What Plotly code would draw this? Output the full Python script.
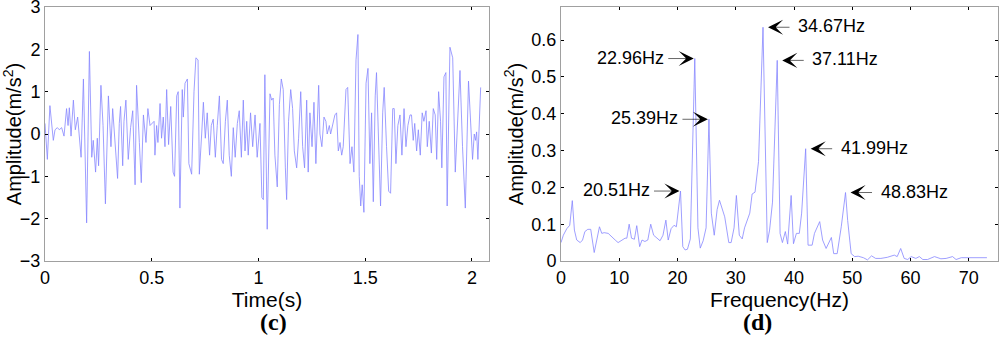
import plotly.graph_objects as go

# ---------------- (c) time signal: local extrema ----------------
time_s = [0.000, 0.011, 0.023, 0.039, 0.047, 0.058, 0.067, 0.078, 0.089, 0.101, 0.108, 0.114,
          0.122, 0.133, 0.142, 0.153, 0.169, 0.180, 0.195, 0.208, 0.219, 0.226, 0.237, 0.245,
          0.251, 0.262, 0.272, 0.283, 0.297, 0.309, 0.317, 0.328, 0.340, 0.348, 0.354, 0.364,
          0.370, 0.379, 0.390, 0.401, 0.411, 0.422, 0.429, 0.442, 0.451, 0.461, 0.473, 0.482,
          0.492, 0.511, 0.515, 0.523, 0.529, 0.539, 0.546, 0.554, 0.562, 0.570, 0.579, 0.589,
          0.600, 0.607, 0.617, 0.624, 0.632, 0.643, 0.648, 0.656, 0.667, 0.674, 0.687, 0.698,
          0.707, 0.717, 0.723, 0.734, 0.742, 0.751, 0.760, 0.771, 0.779, 0.788, 0.798, 0.807,
          0.817, 0.827, 0.835, 0.845, 0.854, 0.863, 0.873, 0.882, 0.891, 0.901, 0.910, 0.920,
          0.929, 0.937, 0.945, 0.952, 0.963, 0.973, 0.984, 0.994, 1.007, 1.016, 1.023, 1.030,
          1.041, 1.054, 1.062, 1.069, 1.077, 1.088, 1.098, 1.107, 1.116, 1.126, 1.132, 1.141,
          1.151, 1.160, 1.168, 1.179, 1.188, 1.198, 1.207, 1.216, 1.226, 1.233, 1.241, 1.251,
          1.260, 1.269, 1.282, 1.288, 1.297, 1.307, 1.316, 1.322, 1.332, 1.338, 1.348, 1.358,
          1.366, 1.374, 1.382, 1.390, 1.397, 1.410, 1.418, 1.429, 1.438, 1.447, 1.457, 1.466,
          1.472, 1.479, 1.486, 1.494, 1.504, 1.513, 1.522, 1.530, 1.538, 1.547, 1.553, 1.563,
          1.572, 1.582, 1.589, 1.600, 1.610, 1.619, 1.629, 1.636, 1.644, 1.653, 1.663, 1.672,
          1.682, 1.691, 1.700, 1.710, 1.717, 1.725, 1.732, 1.741, 1.749, 1.758, 1.767, 1.775,
          1.785, 1.791, 1.800, 1.810, 1.819, 1.828, 1.835, 1.844, 1.853, 1.859, 1.869, 1.878,
          1.884, 1.897, 1.910, 1.922, 1.934, 1.944, 1.956, 1.969, 1.984, 1.994, 2.003, 2.011,
          2.017, 2.022, 2.028, 2.041]
amplitude_t = [0.25, -0.6, 0.67, -0.15, 0.1, 0.15, 0.1, 0.15, -0.05, 0.6, 0.2, 0.62,
               -0.05, 0.8, 0.1, 0.4, -0.55, 1.3, -2.1, 1.95, -0.55, -0.15, -0.9, -0.1,
               -0.75, 1.15, 0.2, -1.65, 0.9, -0.3, 0.6, -0.15, -1.05, 0.25, 0.65, -0.75,
               0.3, 0.8, -0.6, 0.15, 0.55, -1.2, 1.15, -0.2, -1.15, 0.45, -0.2, 0.6,
               0.2, 0.3, -0.5, 0.2, -0.2, 0.72, -0.1, 0.4, -0.3, 1.05, -0.25, 0.65,
               -0.9, -1.0, 0.9, 1.0, -1.75, 1.05, 0.4, 1.2, 1.3, -0.7, -0.95, 1.0,
               1.8, 1.75, -0.95, 0.0, 0.75, -0.1, 0.5, -0.5, 0.2, 0.35, -0.55, 0.2,
               0.9, -0.6, -0.7, 0.3, 0.8, -0.5, -1.0, 0.15, -0.55, 0.25, 0.55, -0.55,
               0.8, -0.4, 0.3, -0.5, 0.5, -0.3, 0.45, -0.55, 0.25, -1.5, -1.55, 1.4,
               -2.25, 0.95, 0.8, 0.85, -0.5, -1.25, 0.7, 1.3, 1.05, -0.8, -1.55, 0.3,
               1.05, 0.6, -0.4, -0.8, -0.1, 1.0, -0.3, -0.8, 0.8, -0.9, 0.5, -0.3,
               0.75, -0.7, 1.15, 0.0, -0.3, 0.4, 0.3, 0.0, 0.2, 0.0, 0.2, 0.45,
               0.5, -0.4, -0.2, -0.5, -0.3, 1.05, 1.1, -0.7, -0.3, -0.9, 1.75, 2.35,
               -1.0, -1.7, -1.2, -1.85, 1.2, 1.55, -0.7, 0.5, -1.6, 0.9, 1.45, -0.5,
               -1.7, 0.5, 1.1, -0.3, -1.35, -1.4, 0.6, 0.6, -0.7, 0.2, 0.45, -0.5,
               0.6, -0.3, 0.2, 0.45, 0.45, -0.15, 0.25, -0.4, 0.1, -0.5, 0.5, 0.3,
               0.55, -0.3, 0.3, -0.45, 0.6, 0.45, -0.6, 1.0, 0.3, -0.8, 1.35, 1.45,
               -1.7, 2.05, 1.8, -0.9, 0.4, 1.5, -0.3, -1.75, 1.25, 0.2, -0.6, 0.0,
               -0.15, 0.05, -0.6, 1.1]

# ---------------- (d) spectrum ----------------
freq_hz = [0.0, 0.4, 1.0, 1.5, 1.94, 2.3, 2.7, 3.3, 3.7, 4.1, 4.6, 5.1, 5.7, 6.1, 6.6, 7.0,
           7.4, 8.1, 8.8, 9.3, 9.8, 10.4, 11.0, 11.3, 11.7, 12.1, 12.6, 13.0, 13.5, 13.9,
           14.4, 14.9, 15.4, 15.9, 16.4, 17.0, 17.5, 18.0, 18.4, 18.9, 19.4, 19.8, 20.51,
           20.9, 21.3, 21.7, 22.2, 22.96, 23.5, 23.9, 24.4, 24.9, 25.39, 25.8, 26.3, 26.8,
           27.2, 27.7, 28.1, 28.8, 29.2, 29.7, 30.1, 30.6, 31.1, 31.5, 32.0, 32.4, 32.8,
           33.3, 33.9, 34.67, 35.4, 35.8, 36.3, 37.11, 37.6, 38.0, 38.5, 38.9, 39.5, 39.9,
           40.4, 40.9, 41.3, 41.99, 42.4, 43.1, 43.5, 44.4, 44.9, 45.5, 46.4, 46.8, 47.4,
           48.1, 48.83, 49.2, 49.8, 50.4, 51.0, 51.9, 52.6, 53.3, 54.0, 54.9, 56.0, 57.2,
           57.7, 58.3, 58.9, 59.5, 60.1, 60.9, 61.5, 62.1, 62.9, 64.1, 65.2, 66.1, 67.2,
           67.8, 68.7, 70.4, 73.1]
amplitude_f = [0.05, 0.07, 0.088, 0.097, 0.164, 0.084, 0.057, 0.05, 0.057, 0.08, 0.086, 0.086,
               0.023, 0.057, 0.093, 0.075, 0.077, 0.075, 0.066, 0.057, 0.05, 0.055, 0.062,
               0.062, 0.1, 0.062, 0.059, 0.096, 0.039, 0.057, 0.053, 0.057, 0.1, 0.07, 0.062,
               0.055, 0.07, 0.111, 0.057, 0.088, 0.097, 0.093, 0.19, 0.039, 0.03, 0.032, 0.06,
               0.55, 0.09, 0.035, 0.055, 0.09, 0.385, 0.13, 0.07, 0.14, 0.165, 0.14, 0.12,
               0.05, 0.05, 0.09, 0.178, 0.07, 0.06, 0.09, 0.11, 0.13, 0.182, 0.187, 0.27,
               0.635, 0.05, 0.084, 0.16, 0.545, 0.075, 0.05, 0.08, 0.046, 0.178, 0.047, 0.075,
               0.075, 0.13, 0.305, 0.043, 0.043, 0.075, 0.107, 0.057, 0.034, 0.064, 0.02,
               0.02, 0.093, 0.186, 0.11, 0.02, 0.012, 0.013, 0.009, 0.003, 0.014, 0.007, 0.007,
               0.01, 0.016, 0.012, 0.034, 0.007, 0.004, 0.012, 0.007, 0.012, 0.004, 0.004,
               0.012, 0.006, 0.007, 0.012, 0.004, 0.009, 0.009, 0.009]

peak_freqs = [20.51, 22.96, 25.39, 34.67, 37.11, 41.99, 48.83]
peak_amps = [0.19, 0.55, 0.385, 0.635, 0.545, 0.305, 0.186]
peak_labels = ["20.51Hz", "22.96Hz", "25.39Hz", "34.67Hz", "37.11Hz", "41.99Hz", "48.83Hz"]
peak_side = ["left", "left", "left", "right", "right", "right", "right"]

time_ticks = [0, 0.5, 1, 1.5, 2]
amp_ticks_t = [-3, -2, -1, 0, 1, 2, 3]
freq_ticks = [0, 10, 20, 30, 40, 50, 60, 70]
amp_ticks_f = [0, 0.1, 0.2, 0.3, 0.4, 0.5, 0.6]

LINE = "rgb(135,135,255)"
FONT = "Liberation Sans, Arial, sans-serif"

fig = go.Figure()
fig.add_trace(go.Scatter(x=time_s, y=amplitude_t, mode="lines",
                         line=dict(color=LINE, width=0.8), xaxis="x", yaxis="y",
                         showlegend=False, hoverinfo="skip"))
fig.add_trace(go.Scatter(x=freq_hz, y=amplitude_f, mode="lines",
                         line=dict(color=LINE, width=0.8), xaxis="x2", yaxis="y2",
                         showlegend=False, hoverinfo="skip"))

axis_common = dict(showgrid=False, zeroline=False, showline=True, linecolor="#a0a0a0",
                   linewidth=1, mirror="ticks", ticks="inside", ticklen=3, tickcolor="black",
                   tickwidth=1, automargin=False, ticklabeloverflow="allow",
                   tickfont=dict(family=FONT, size=18, color="black"))
xtitle_font = dict(family=FONT, size=21, color="black")
ytitle_font = dict(family=FONT, size=20, color="black")

ydom = [1 - 261 / 347, 1 - 7 / 347]
fig.update_layout(
    width=1000, height=347,
    margin=dict(l=0, r=0, t=0, b=0),
    paper_bgcolor="white", plot_bgcolor="white",
    xaxis=dict(domain=[0.045, 0.489], range=[0, 2.08], tickvals=time_ticks,
               ticktext=["0", "0.5", "1", "1.5", "2"],
               title=dict(text="Time(s)", font=xtitle_font, standoff=0),
               anchor="y", **axis_common),
    yaxis=dict(domain=ydom, range=[-3, 3], tickvals=amp_ticks_t,
               title=dict(text="Amplitude(m/s<sup>2</sup>)", font=ytitle_font, standoff=2),
               anchor="x", **axis_common),
    xaxis2=dict(domain=[0.561, 0.998], range=[0, 75], tickvals=freq_ticks,
                title=dict(text="Frequency(Hz)", font=xtitle_font, standoff=0),
                anchor="y2", **axis_common),
    yaxis2=dict(domain=ydom, range=[0, 0.69], tickvals=amp_ticks_f,
                ticktext=["0", "0.1", "0.2", "0.3", "0.4", "0.5", "0.6"],
                title=dict(text="Amplitude(m/s<sup>2</sup>)", font=ytitle_font, standoff=2),
                anchor="x2", **axis_common),
)

ARROW_LEN = 28
for f, a, lab, side in zip(peak_freqs, peak_amps, peak_labels, peak_side):
    sign = -1 if side == "left" else 1
    gap = 1 if side == "left" else 5
    fig.add_annotation(x=f, y=a, xref="x2", yref="y2", text="", showarrow=True,
                       ax=sign * ARROW_LEN, ay=0, arrowhead=3, arrowsize=4.2,
                       arrowwidth=0.6, arrowcolor="black", standoff=gap)
    fig.add_annotation(x=f, y=a, xref="x2", yref="y2", text=lab, showarrow=False,
                       xanchor="right" if side == "left" else "left",
                       xshift=sign * (ARROW_LEN + gap), yshift=1,
                       font=dict(family=FONT, size=18, color="black"))

fig.add_annotation(x=0.258, y=1 - 322 / 347, xref="paper", yref="paper", text="<b>(c)</b>",
                   showarrow=False, yanchor="middle",
                   font=dict(family="Liberation Serif, Times New Roman, serif",
                             size=24, color="black"))
fig.add_annotation(x=0.774, y=1 - 322 / 347, xref="paper", yref="paper", text="<b>(d)</b>",
                   showarrow=False, yanchor="middle",
                   font=dict(family="Liberation Serif, Times New Roman, serif",
                             size=24, color="black"))

fig.write_html("out.html", config={"displayModeBar": False},
               post_script="document.body.style.margin='0';document.body.style.overflow='hidden';")
